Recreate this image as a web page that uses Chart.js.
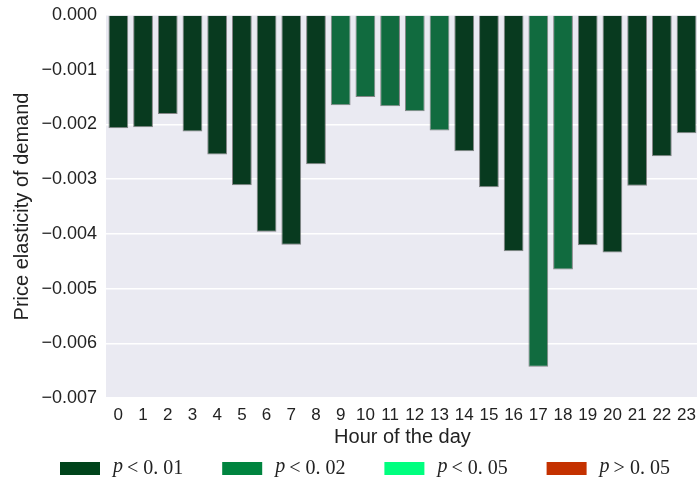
<!DOCTYPE html>
<html>
<head>
<meta charset="utf-8">
<script src="https://cdn.jsdelivr.net/npm/chart.js@4/dist/chart.umd.min.js"></script>
<style>
  html, body { margin: 0; padding: 0; background: #fff; overflow: hidden; }
  #wrap { width: 703px; height: 485px; }
</style>
</head>
<body>
<div id="wrap"><canvas id="myChart"></canvas></div>
<script>
// hour categories
const horas = ['0','1','2','3','4','5','6','7','8','9','10','11','12','13','14','15','16','17','18','19','20','21','22','23'];
// price elasticity per hour
const elasticidad = [-0.00207, -0.00205, -0.00181, -0.00213, -0.00255, -0.00311, -0.00396, -0.00420,
  -0.00273, -0.00165, -0.00150, -0.00167, -0.00176, -0.00211, -0.00249, -0.00315,
  -0.00432, -0.00643, -0.00465, -0.00421, -0.00434, -0.00312, -0.00258, -0.00216];
// significance group per hour: 0 -> p<0.01, 1 -> p<0.02
const grupo = [0,0,0,0,0,0,0,0,0,1,1,1,1,1,0,0,0,1,1,0,0,0,0,0];
const yTicks = [0, -0.001, -0.002, -0.003, -0.004, -0.005, -0.006, -0.007];

const leyendaOp = ['<', '<', '<', '>'];
const leyendaValor = ['0. 01', '0. 02', '0. 05', '0. 05'];
const leyendaColor = ['#00441b', '#00843f', '#00ff7f', '#c43100'];
const barraColor = ['#083a1f', '#116b3f'];

const ctx = document.getElementById('myChart');

const fondo = {
  id: 'fondo',
  beforeDraw(chart) {
    const { ctx, chartArea: a } = chart;
    ctx.save();
    ctx.fillStyle = '#eaeaf2';
    ctx.fillRect(a.left, a.top, a.right - a.left, a.bottom - a.top);
    ctx.restore();
  }
};

const leyenda = {
  id: 'leyenda',
  afterDraw(chart) {
    const c = chart.ctx;
    c.save();
    for (let i = 0; i < leyendaColor.length; i++) {
      const x = 60 + i * 162.2;
      c.fillStyle = leyendaColor[i];
      c.fillRect(x, 462, 40, 13);
      c.fillStyle = '#222';
      c.textBaseline = 'middle';
      c.font = 'italic 20px "Liberation Serif"';
      c.fillText('p', x + 53, 467);
      const w = c.measureText('p').width;
      c.font = '20px "Liberation Serif"';
      c.fillText(leyendaOp[i] + ' ' + leyendaValor[i], x + 53 + w + 4, 469);
    }
    c.restore();
  }
};

new Chart(ctx, {
  type: 'bar',
  data: {
    labels: horas,
    datasets: [{
      data: elasticidad,
      backgroundColor: grupo.map(g => barraColor[g]),
      borderColor: 'rgba(90,90,90,0.7)',
      borderWidth: 1,
      barPercentage: 0.8,
      categoryPercentage: 1.0
    }]
  },
  options: {
    responsive: true,
    maintainAspectRatio: false,
    animation: false,
    layout: { padding: { top: 15, right: 0, left: 10, bottom: 36 } },
    scales: {
      x: {
        afterFit: s => { s.height = 51; },
        grid: { display: false, drawTicks: false },
        border: { display: false },
        ticks: { color: '#222', font: { family: 'Liberation Sans', size: 17 }, padding: 7, maxRotation: 0, autoSkip: false },
        title: { display: true, text: 'Hour of the day', color: '#222', font: { family: 'Liberation Sans', size: 20 }, padding: { top: 0, bottom: 0 } }
      },
      y: {
        min: -0.007,
        max: 0,
        afterFit: s => { s.width = 96; s.paddingTop = 0; s.paddingBottom = 0; },
        afterBuildTicks: s => { s.ticks = yTicks.map(v => ({ value: v })); },
        grid: { color: '#ffffff', lineWidth: 1.5, drawTicks: false },
        border: { display: false },
        ticks: {
          color: '#222',
          font: { family: 'Liberation Sans', size: 18 },
          padding: 9,
          callback: v => (v < 0 ? '\u2212' : '') + Math.abs(v).toFixed(3)
        },
        title: { display: true, text: 'Price elasticity of demand', color: '#222', font: { family: 'Liberation Sans', size: 20 }, padding: { top: 0, bottom: 0 } }
      }
    },
    plugins: {
      legend: { display: false },
      tooltip: { enabled: false }
    }
  },
  plugins: [fondo, leyenda]
});
</script>
</body>
</html>
